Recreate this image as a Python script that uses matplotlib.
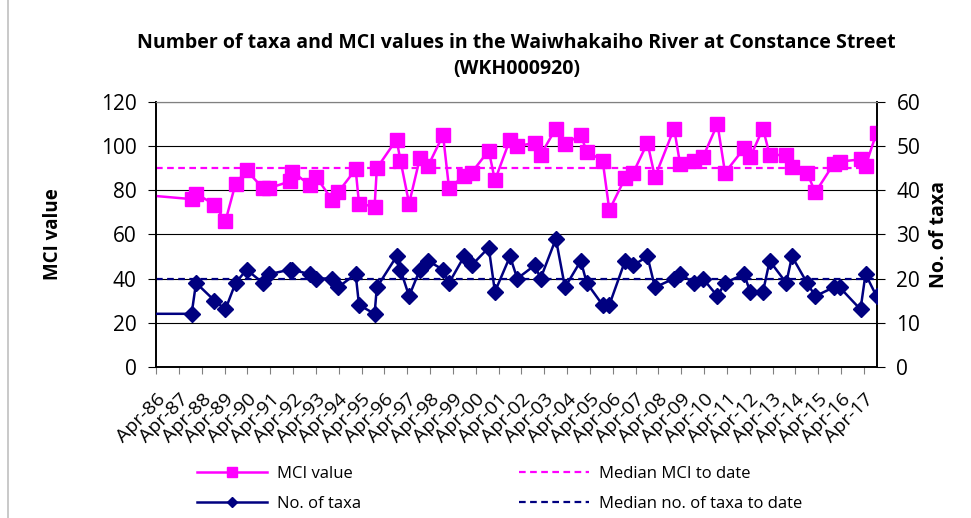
import matplotlib
matplotlib.use("Agg")
import matplotlib.pyplot as plt
import matplotlib.dates as mdates
from matplotlib.lines import Line2D
import pandas as pd

plt.rcParams["font.family"] = ["Open Sans", "DejaVu Sans"]

sample_dates = [
    "1985-01-01", "1987-10-22", "1988-01-01", "1988-10-22", "1989-04-15",
    "1989-09-24", "1990-03-20", "1990-12-05", "1991-03-20", "1992-02-06",
    "1992-03-17", "1992-12-20", "1993-04-08", "1993-12-20", "1994-03-20",
    "1994-12-28", "1995-02-20", "1995-10-27", "1995-12-02", "1996-10-12",
    "1996-12-14", "1997-05-01", "1997-10-20", "1998-02-28", "1998-10-26",
    "1999-01-30", "1999-09-28", "2000-01-26", "2000-10-26", "2001-02-02",
    "2001-10-01", "2002-01-26", "2002-11-02", "2003-02-02", "2003-10-05",
    "2004-02-28", "2004-11-06", "2005-02-10", "2005-10-22", "2006-02-06",
    "2006-10-16", "2007-02-24", "2007-10-09", "2008-02-06", "2008-12-08",
    "2009-03-14", "2009-10-22", "2010-03-14", "2010-11-02", "2011-03-03",
    "2012-01-01", "2012-04-08", "2012-10-30", "2013-02-14", "2013-11-06",
    "2014-02-06", "2014-10-05", "2015-02-14", "2015-12-05", "2016-03-10",
    "2017-02-06", "2017-04-27", "2017-10-20",
]
mci_values = [
    78.5, 76, 78.5, 73.5, 66, 83, 89, 81, 81, 84,
    88.5, 82.5, 86, 75.5, 79, 89.5, 74, 72.5, 90, 103,
    93.5, 74, 94.5, 91, 105, 81, 86.5, 88, 98, 84.5,
    103, 100, 101.5, 96, 108, 101, 105, 97.5, 93.5, 71,
    85.5, 88, 101.5, 86, 108, 92, 93.5, 95, 110, 88,
    99, 95, 108, 96, 96, 90.5, 88, 79, 92, 93,
    94, 91, 106,
]
taxa_counts = [
    12, 12, 19, 15, 13, 19, 22, 19, 21, 22,
    22, 21, 20, 20, 18, 21, 14, 12, 18, 25,
    22, 16, 22, 24, 22, 19, 25, 23, 27, 17,
    25, 20, 23, 20, 29, 18, 24, 19, 14, 14,
    24, 23, 25, 18, 20, 21, 19, 20, 16, 19,
    21, 17, 17, 24, 19, 25, 19, 16, 18, 18,
    13, 21, 16,
]
median_mci = 90
median_taxa = 20

dates = pd.to_datetime(sample_dates)
tick_dates = pd.date_range("1986-04-01", "2017-04-01", freq="12MS")

magenta = "#FF00FF"
navy = "#000080"

fig = plt.figure(figsize=(9.71, 5.18), dpi=100)
ax = fig.add_axes([0.1607, 0.292, 0.7425, 0.511])
ax2 = ax.twinx()

x_start = pd.Timestamp("1986-04-01")
x_end = pd.Timestamp("2017-10-28")

ax.plot(dates, mci_values, color=magenta, linewidth=1.8, marker="s",
        markersize=10, zorder=3)
ax.plot([x_start, x_end], [median_mci, median_mci], color=magenta,
        linestyle=(0, (3, 2)), linewidth=1.6, zorder=2)
ax2.plot(dates, taxa_counts, color=navy, linewidth=1.8, marker="D",
         markersize=8, zorder=3)
ax2.plot([x_start, x_end], [median_taxa, median_taxa], color=navy,
         linestyle=(0, (3, 2)), linewidth=1.6, zorder=2)

ax.set_xlim(x_start, x_end)
ax.set_ylim(0, 120)
ax2.set_ylim(0, 60)
ax.set_yticks(range(0, 121, 20))
ax2.set_yticks(range(0, 61, 10))
ax.yaxis.grid(True, color="black", linewidth=0.8)
ax.set_axisbelow(True)

ax.set_xticks(tick_dates)
ax.xaxis.set_major_formatter(mdates.DateFormatter("%b-%y"))
for lbl in ax.get_xticklabels():
    lbl.set_rotation(45)
    lbl.set_ha("right")
    lbl.set_rotation_mode("anchor")

ax.tick_params(axis="x", labelsize=14, length=5, color="#808080", pad=12)
ax.tick_params(axis="y", labelsize=15, length=6, pad=8)
ax2.tick_params(axis="y", labelsize=15, length=6, pad=8)

for a in (ax, ax2):
    a.spines["top"].set_color("#808080")
    a.spines["left"].set_linewidth(1.2)
    a.spines["right"].set_linewidth(1.2)
    a.spines["bottom"].set_linewidth(1.2)

ax.set_ylabel("MCI value", fontsize=13.5, fontweight="bold", labelpad=27)
ax2.set_ylabel("No. of taxa", fontsize=14, fontweight="bold", labelpad=6)
ax.set_title("Number of taxa and MCI values in the Waiwhakaiho River at Constance Street\n(WKH000920)",
             fontsize=14, fontweight="bold", pad=20, linespacing=1.45)

handles = [
    Line2D([], [], color=magenta, linewidth=1.8, marker="s", markersize=7),
    Line2D([], [], color=navy, linewidth=1.8, marker="D", markersize=5),
    Line2D([], [], color=magenta, linestyle=(0, (3, 2)), linewidth=1.6),
    Line2D([], [], color=navy, linestyle=(0, (3, 2)), linewidth=1.6),
]
labels = ["MCI value", "No. of taxa", "Median MCI to date", "Median no. of taxa to date"]
fig.legend(handles, labels, ncol=2, loc="center left",
           bbox_to_anchor=(0.187, 0.056), frameon=False, fontsize=12,
           handlelength=4.2, columnspacing=9.5, labelspacing=0.8,
           handletextpad=0.6)

fig.add_artist(Line2D([0.008, 0.008], [0, 1], color="#c0c0c0", linewidth=1.2))

fig.savefig("out.png", dpi=100)
